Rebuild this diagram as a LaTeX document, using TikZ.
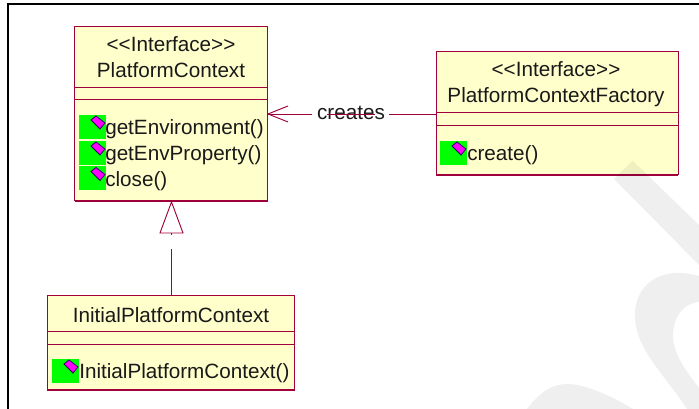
\documentclass[tikz,border=0pt]{standalone}
\usepackage{fontspec}
\setmainfont{Liberation Sans}
\definecolor{umlline}{RGB}{160,0,60}
\definecolor{umlfill}{RGB}{255,255,204}
\definecolor{opgreen}{RGB}{0,255,0}
\definecolor{opmagenta}{RGB}{255,0,255}
\definecolor{opdark}{RGB}{50,0,110}
\tikzset{x=0.75pt,y=-0.75pt,
 classbox/.style={draw=umlline,fill=umlfill,line width=0.75pt},
 compart/.style={draw=umlline,line width=0.6pt},
 shadowedge/.style={draw=umlline,line width=1.3pt},
 conn/.style={draw=umlline,line width=0.7pt},
 txt/.style={font=\fontsize{15.5pt}{18pt}\selectfont,text=black!90,inner sep=0pt,anchor=base},
 optxt/.style={txt,anchor=base west},
 greenbox/.style={fill=opgreen,draw=none},
 gem/.style={fill=opmagenta,draw=opdark,line width=0.6pt},
 wmark/.style={fill=black,opacity=0.063}}
\newcommand{\opicon}[2]{% x of green left, y of green top
 \fill[greenbox] (#1,#2) rectangle ++(26.5,24);
 \filldraw[gem] (#1+12,#2+5) -- (#1+17,#2+1) -- (#1+26,#2+8) -- (#1+21,#2+14) -- cycle;}
\begin{document}
\begin{tikzpicture}
\useasboundingbox (0,0) rectangle (699,409);
\fill[white] (0,0) rectangle (699,409);
% frame
\draw[black,line width=1.5pt] (8,409) -- (8,4) -- (699,4);
% PlatformContext
\path[classbox] (74.5,27) rectangle (267.5,201);
\draw[compart] (74.5,87) -- (267.5,87);
\draw[compart] (74.5,99.5) -- (267.5,99.5);
\draw[shadowedge] (74.5,201) -- (267.5,201) (74.5,27) -- (74.5,201);
\node[txt] (pcs) at (171,52) {<{}<Interface>{}>};
\node[txt] (pcn) at (171,78) {PlatformContext};
\opicon{79}{115}
\opicon{79}{141}
\opicon{79}{166.5}
\node[optxt] (m1) at (105,135) {getEnvironment()};
\node[optxt] (m2) at (105,161) {getEnvProperty()};
\node[optxt] (m3) at (105,187) {close()};
% Factory
\path[classbox] (436,52) rectangle (678,175);
\draw[compart] (436,112) -- (678,112);
\draw[compart] (436,125) -- (678,125);
\draw[shadowedge] (436,175) -- (678,175);
\draw[conn] (436,52) -- (436,175);
\node[txt] (fs) at (556,77) {<{}<Interface>{}>};
\node[txt] (fn) at (556,103) {PlatformContextFactory};
\opicon{440}{141}
\node[optxt] (m4) at (467,161) {create()};
% Initial
\path[classbox] (47.5,296) rectangle (294,390);
\draw[compart] (47.5,331) -- (294,331);
\draw[compart] (47.5,344) -- (294,344);
\draw[shadowedge] (47.5,390) -- (294,390);
\node[txt] (in) at (171,322.5) {InitialPlatformContext};
\opicon{52}{359}
\node[optxt] (m5) at (79,378.5) {InitialPlatformContext()};
% creates
\coordinate (tipa) at (268,114);
\coordinate (fl) at (436,114);
\node[txt] (cr) at (351,120) {creates};
\draw[conn] (fl) -- (389,114);
\draw[conn] (312,114) -- (tipa);
\draw[conn] (tipa) -- (288,106);
\draw[conn] (tipa) -- (288,122);
\draw[umlline,line width=0.5pt] (327,114) -- (375,114);
% realization
\coordinate (tip) at (171.5,202);
\coordinate (ic) at (171.5,296);
\draw[conn] (tip) -- (160,233) -- (183,233) -- cycle;
\draw[conn] (ic) -- (171.5,249);
\draw[conn] (171.5,233) -- (171.5,235);
% watermark
\fill[wmark] (632.7,160.7) -- (699,225) -- (699,265) -- (614,179) -- cycle;
\fill[wmark] (699,276) .. controls (660,265) and (634,285) .. (635,317) .. controls (636,350) and (665,375) .. (687,409) -- (699,409) -- (699,388) .. controls (685,370) and (672,352) .. (673,333) .. controls (674,315) and (685,303) .. (699,302) -- cycle;
\fill[wmark] (527,409) .. controls (540,392) and (552,384) .. (567,384) .. controls (585,384) and (612,396) .. (633,409) -- cycle;
\end{tikzpicture}
\end{document}
